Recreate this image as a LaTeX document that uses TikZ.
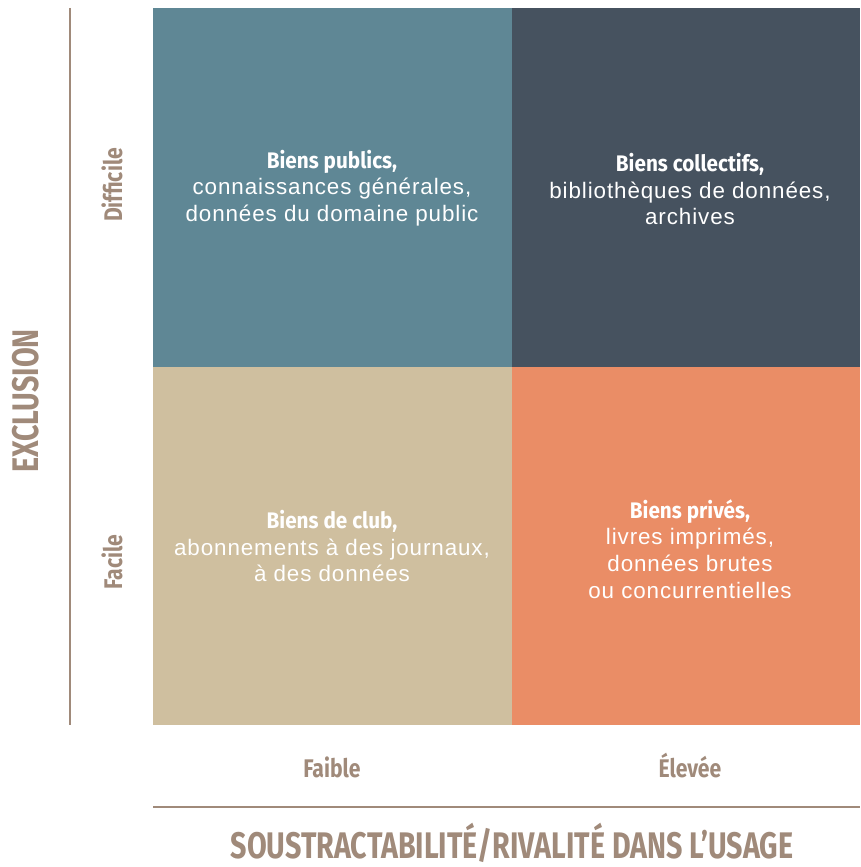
\documentclass[tikz,border=0pt]{standalone}
\usepackage{fontspec}
\setmainfont[LetterSpace=4]{Liberation Sans}
\newfontfamily\headfont[FakeStretch=0.92]{Fira Sans}
\newfontfamily\labfont[FakeStretch=0.83]{Fira Sans}
\newfontfamily\titfont[FakeStretch=0.775]{Fira Sans}
\definecolor{qteal}{HTML}{5F8795}
\definecolor{qslate}{HTML}{46525F}
\definecolor{qbeige}{HTML}{CFBF9F}
\definecolor{qorange}{HTML}{EA8D66}
\definecolor{taupe}{HTML}{A08A7A}
\tikzset{
  quad/.style={draw=none, inner sep=0pt},
  qtext/.style={text=white, align=center, inner sep=0pt, font=\fontsize{22.4}{26.7}\selectfont},
  axisline/.style={draw=taupe, line width=1.5pt},
  axlabel/.style={text=taupe, inner sep=0pt, font=\labfont\bfseries\fontsize{25.5}{28}\selectfont},
  axtitle/.style={text=taupe, inner sep=0pt, font=\titfont\bfseries\fontsize{37}{40}\selectfont},
}
\newcommand{\hd}[1]{{\headfont\bfseries\fontsize{22.5}{26.7}\selectfont #1}}
\begin{document}
\begin{tikzpicture}[x=1pt,y=-1pt]
\useasboundingbox (0,0) rectangle (860,867);
\node[quad, fill=qteal, minimum width=359pt, minimum height=359pt] (q1) at (332.5,187.5) {};
\node[quad, fill=qslate, minimum width=348pt, minimum height=359pt] (q2) at (686,187.5) {};
\node[quad, fill=qbeige, minimum width=359pt, minimum height=358pt] (q3) at (332.5,546) {};
\node[quad, fill=qorange, minimum width=348pt, minimum height=358pt] (q4) at (686,546) {};
\node[qtext] (t1) at (332,188) {\hd{Biens publics,}\\connaissances générales,\\données du domaine public};
\node[qtext] (t2) at (690,189) {\hd{Biens collectifs,}\\bibliothèques de données,\\archives};
\node[qtext] (t3) at (332,546) {\hd{Biens de club,}\\abonnements à des journaux,\\à des données};
\node[qtext] (t4) at (690,549) {\hd{Biens privés,}\\livres imprimés,\\données brutes\\ou concurrentielles};
\coordinate (v1) at (70,8);
\coordinate (v2) at (70,725);
\draw[axisline] (v1) -- (v2);
\coordinate (h1) at (153,807);
\coordinate (h2) at (860,807);
\draw[axisline] (h1) -- (h2);
\node[axlabel, rotate=90] (ldiff) at (112,185) {Difficile};
\node[axlabel, rotate=90] (lfac) at (112,562) {Facile};
\node[axlabel] (lfai) at (332,767) {Faible};
\node[axlabel] (lele) at (690,766) {Élevée};
\node[axtitle, rotate=90] (lexc) at (26,401) {EXCLUSION};
\node[axtitle, anchor=base] (lsou) at (512,858) {SOUSTRACTABILITÉ/RIVALITÉ DANS L’USAGE};
\end{tikzpicture}
\end{document}
